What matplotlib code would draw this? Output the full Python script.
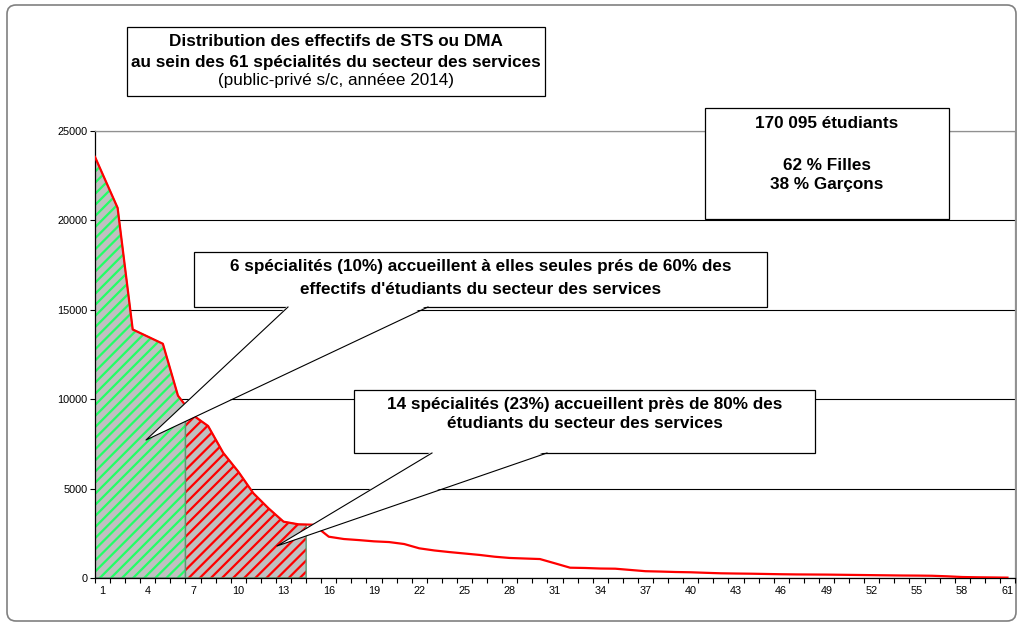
import numpy as np
import matplotlib.pyplot as plt
from matplotlib.patches import FancyBboxPatch, Rectangle, Polygon

plt.rcParams['font.family'] = ['Liberation Sans', 'DejaVu Sans']
plt.rcParams['hatch.linewidth'] = 1.6

# effectifs par spécialité (rang 1 à 61)
rang = np.arange(1, 62)
effectifs = [22600, 20700, 13900, 13500, 13100, 10200, 9100, 8500, 7000, 5950,
             4740, 3900, 3150, 3000, 2980, 2310, 2180, 2120, 2050, 2010,
             1900, 1660, 1540, 1450, 1370, 1290, 1190, 1120, 1090, 1060,
             820, 576, 560, 530, 520, 450, 380, 360, 335, 320,
             290, 263, 250, 240, 225, 210, 200, 195, 190, 180,
             170, 160, 150, 140, 135, 125, 95, 55, 40, 30, 20]
n_top6 = 6
n_top14 = 14
y_ticks = [0, 5000, 10000, 15000, 20000, 25000]
x_labels = list(range(1, 62, 3))

W, H = 1019, 628


def main():
    fig = plt.figure(figsize=(W / 100, H / 100), dpi=100)

    # cadre extérieur
    bg = fig.add_axes([0, 0, 1, 1], zorder=0)
    bg.set_xlim(0, W)
    bg.set_ylim(H, 0)
    bg.axis('off')
    bg.add_patch(FancyBboxPatch((7, 5), 1009, 616, boxstyle='round,pad=0,rounding_size=9',
                                facecolor='white', edgecolor='#808080', linewidth=1.2))

    ax = fig.add_axes([95 / W, 1 - 578 / H, 920 / W, 447 / H], zorder=1)
    ax.set_facecolor('none')
    x = rang.astype(float)
    y = np.array(effectifs, dtype=float)
    x0, x1 = 0.5, 61.5
    ax.set_xlim(x0, x1)
    ax.set_ylim(0, 25000)

    # la courbe part du bord gauche de l'axe (prolongement du 1er segment)
    y_edge = y[0] + (y[0] - y[1]) * (x[0] - x0)
    xl = np.r_[x0, x]
    yl = np.r_[y_edge, y]

    # zones hachurées : 6 premières, puis jusqu'à la 14e
    xa = np.r_[xl[:n_top6 + 1], n_top6 + 0.5]
    ya = np.r_[yl[:n_top6 + 1], np.interp(n_top6 + 0.5, x, y)]
    ax.fill_between(xa, ya, facecolor='#c0c0c0', edgecolor='#22ff66', hatch='///',
                    linewidth=0, zorder=2)
    ax.fill_between(xa, ya, facecolor='none', edgecolor='#5a9a72', linewidth=1, zorder=2)

    xb = np.r_[n_top6 + 0.5, x[n_top6:n_top14], n_top14 + 0.5]
    yb = np.r_[np.interp(n_top6 + 0.5, x, y), y[n_top6:n_top14], np.interp(n_top14 + 0.5, x, y)]
    ax.fill_between(xb, yb, facecolor='#c0c0c0', edgecolor='#ff0000', hatch='///',
                    linewidth=0, zorder=2)
    ax.fill_between(xb, yb, facecolor='none', edgecolor='#5a9a72', linewidth=1, zorder=2)

    ax.plot(xl, yl, color='#ff0000', linewidth=1.6, zorder=3)

    ax.set_yticks(y_ticks)
    ax.set_yticklabels([str(v) for v in y_ticks])
    ax.set_xticks(x_labels)
    ax.set_xticklabels([str(v) for v in x_labels])
    ax.set_xticks(np.arange(0.5, 62, 1), minor=True)
    ax.tick_params(axis='x', which='major', length=0, labelsize=7.8, pad=6)
    ax.tick_params(axis='x', which='minor', length=3.5, width=0.8, direction='out')
    ax.tick_params(axis='y', length=3.5, width=0.8, labelsize=7.8, pad=2)
    ax.grid(axis='y', color='black', linewidth=0.8)
    ax.set_axisbelow(True)
    for s in ['left', 'bottom']:
        ax.spines[s].set_color('black')
        ax.spines[s].set_linewidth(0.9)
    for s in ['top', 'right']:
        ax.spines[s].set_color('#909090')
        ax.spines[s].set_linewidth(0.9)

    # boîtes de texte et bulles
    ov = fig.add_axes([0, 0, 1, 1], zorder=5)
    ov.set_xlim(0, W)
    ov.set_ylim(H, 0)
    ov.axis('off')

    def box(x_l, y_t, x_r, y_b):
        ov.add_patch(Rectangle((x_l, y_t), x_r - x_l, y_b - y_t, facecolor='white',
                               edgecolor='black', linewidth=0.9))

    def wedge(tip, b1, b2):
        ov.add_patch(Polygon([tip, (b1[0], b1[1] - 1.5), (b2[0], b2[1] - 1.5)],
                             facecolor='white', edgecolor='none'))
        ov.plot([b1[0], tip[0], b2[0]], [b1[1], tip[1], b2[1]], color='black', linewidth=0.8)

    fs = 12.3
    box(127, 27, 545, 96)
    ov.text(336, 42, 'Distribution des effectifs de STS ou DMA', ha='center', va='center',
            fontsize=fs, fontweight='bold')
    ov.text(336, 62, 'au sein des 61 spécialités du secteur des services', ha='center',
            va='center', fontsize=fs, fontweight='bold')
    ov.text(336, 81, '(public-privé s/c, annéee 2014)', ha='center', va='center', fontsize=fs)

    box(705, 108, 949, 219)
    ov.text(827, 124, '170 095 étudiants', ha='center', va='center', fontsize=fs,
            fontweight='bold')
    ov.text(827, 166, '62 % Filles', ha='center', va='center', fontsize=fs, fontweight='bold')
    ov.text(827, 184, '38 % Garçons', ha='center', va='center', fontsize=fs, fontweight='bold')

    box(194, 252, 767, 307)
    wedge((146, 440), (288, 307), (428, 307))
    ov.text(481, 267, "6 spécialités (10%) accueillent à elles seules prés de 60% des",
            ha='center', va='center', fontsize=fs, fontweight='bold')
    ov.text(481, 289, "effectifs d'étudiants du secteur des services",
            ha='center', va='center', fontsize=fs, fontweight='bold')

    box(354, 390, 815, 453)
    wedge((277, 546), (432, 453), (547, 453))
    ov.text(585, 405, '14 spécialités (23%) accueillent près de 80% des',
            ha='center', va='center', fontsize=fs, fontweight='bold')
    ov.text(585, 424, 'étudiants du secteur des services',
            ha='center', va='center', fontsize=fs, fontweight='bold')

    fig.savefig('out.png', dpi=100)


if __name__ == "__main__":
    main()
